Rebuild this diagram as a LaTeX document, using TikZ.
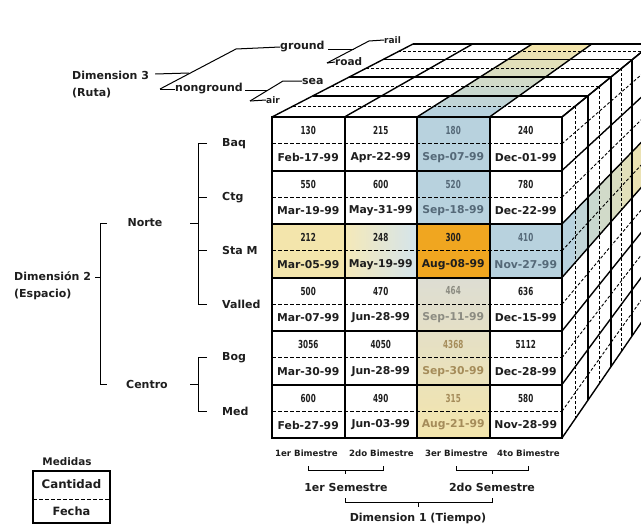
\documentclass[tikz,border=0pt]{standalone}
\usepackage{fontspec}
\setmainfont{DejaVu Sans}
\usetikzlibrary{calc}
\definecolor{bluec}{RGB}{184,210,222}
\definecolor{yellowc}{RGB}{243,229,172}
\definecolor{orangec}{RGB}{240,166,32}
\definecolor{graymix}{RGB}{221,221,211}
\definecolor{txblue}{RGB}{85,105,120}
\definecolor{txgray}{RGB}{140,140,130}
\definecolor{txbrown}{RGB}{165,140,90}
\definecolor{txt}{RGB}{30,30,30}
\begin{document}
\begin{tikzpicture}[x=1pt,y=-1pt,
  lbl/.style={inner sep=0pt, text=txt, font=\bfseries\fontsize{11}{13}\selectfont},
  smalllbl/.style={inner sep=0pt, text=txt, font=\bfseries\fontsize{9}{10}\selectfont},
  bim/.style={inner sep=0pt, text=txt, font=\bfseries\fontsize{8.6}{10}\selectfont},
  valf/.style={inner sep=0pt, font=\bfseries\fontsize{11}{12}\selectfont},
  datef/.style={inner sep=0pt, font=\bfseries\fontsize{10.8}{12}\selectfont},
  gridline/.style={line width=2pt},
  midline/.style={line width=1pt, dash pattern=on 4pt off 2pt},
  faceline/.style={line width=1.4pt},
  facemid/.style={line width=0.9pt, dash pattern=on 3pt off 2pt},
  brk/.style={line width=1pt},
]
\useasboundingbox (0,0) rectangle (641,530);
\fill[white] (0,0) rectangle (641,530);
\coordinate (vp) at (1064,-293);
\begin{scope}
\clip (0,0) rectangle (641,530);
% highlighted bands on top and right faces
\foreach \i in {0,...,7}{
  \pgfmathsetmacro\sa{1/(1+0.0541*\i/2)}
  \pgfmathsetmacro\sb{1/(1+0.0541*(\i+1)/2)}
  \pgfmathtruncatemacro\pc{100-\i*100/7}
  \filldraw[fill=bluec!\pc!yellowc, draw=bluec!\pc!yellowc, line width=0.4pt]
    ($(vp)!\sa!(417,117)$) -- ($(vp)!\sa!(489.5,117)$) -- ($(vp)!\sb!(489.5,117)$) -- ($(vp)!\sb!(417,117)$) -- cycle;
  \filldraw[fill=bluec!\pc!yellowc, draw=bluec!\pc!yellowc, line width=0.4pt]
    ($(vp)!\sa!(562,224)$) -- ($(vp)!\sa!(562,277.5)$) -- ($(vp)!\sb!(562,277.5)$) -- ($(vp)!\sb!(562,224)$) -- cycle;
}
% top and right face lines
\foreach \d in {1,2,3,4}{
  \pgfmathsetmacro\s{1/(1+0.0541*\d)}
  \draw[faceline] ($(vp)!\s!(272,117)$) -- ($(vp)!\s!(562,117)$);
  \draw[faceline] ($(vp)!\s!(562,117)$) -- ($(vp)!\s!(562,438)$);
}
\foreach \d in {0.5,1.5,2.5,3.5}{
  \pgfmathsetmacro\s{1/(1+0.0541*\d)}
  \draw[facemid] ($(vp)!\s!(272,117)$) -- ($(vp)!\s!(562,117)$);
  \draw[facemid] ($(vp)!\s!(562,117)$) -- ($(vp)!\s!(562,438)$);
}
\foreach \x in {272,344.5,417,489.5,562}
  \draw[faceline] (\x,117) -- ($(vp)!0.82203!(\x,117)$);
\foreach \y in {117,170.5,224,277.5,331,384.5,438}
  \draw[faceline] (562,\y) -- ($(vp)!0.82203!(562,\y)$);
\foreach \y in {143.75,197.25,250.75,304.25,357.75,411.25}
  \draw[facemid] (562,\y) -- ($(vp)!0.82203!(562,\y)$);
\end{scope}
% front face fills
\fill[bluec] (417,117) rectangle (489.5,224);
\fill[orangec] (417,224) rectangle (489.5,277.5);
\shade[top color=graymix, bottom color=yellowc] (417,277.5) rectangle (489.5,438);
\fill[yellowc] (272,224) rectangle (344.5,277.5);
\shade[left color=yellowc!85!white, right color=bluec!60!white] (344.5,224) rectangle (417,277.5);
\fill[bluec] (489.5,224) rectangle (562,277.5);
% front grid
\foreach \y in {143.75,197.25,250.75,304.25,357.75,411.25}
  \draw[midline] (272,\y) -- (562,\y);
\foreach \x in {344.5,417,489.5} \draw[gridline] (\x,117) -- (\x,438);
\foreach \y in {170.5,224,277.5,331,384.5} \draw[gridline] (272,\y) -- (562,\y);
\draw[gridline] (272,117) rectangle (562,438);
% cell texts
\foreach \c/\r/\v/\dt/\tc in {
 1/1/130/Feb-17-99/txt, 2/1/215/Apr-22-99/txt, 3/1/180/Sep-07-99/txblue, 4/1/240/Dec-01-99/txt,
 1/2/550/Mar-19-99/txt, 2/2/600/May-31-99/txt, 3/2/520/Sep-18-99/txblue, 4/2/780/Dec-22-99/txt,
 1/3/212/Mar-05-99/txt, 2/3/248/May-19-99/txt, 3/3/300/Aug-08-99/txt, 4/3/410/Nov-27-99/txblue,
 1/4/500/Mar-07-99/txt, 2/4/470/Jun-28-99/txt, 3/4/464/Sep-11-99/txgray, 4/4/636/Dec-15-99/txt,
 1/5/3056/Mar-30-99/txt, 2/5/4050/Jun-28-99/txt, 3/5/4368/Sep-30-99/txbrown, 4/5/5112/Dec-28-99/txt,
 1/6/600/Feb-27-99/txt, 2/6/490/Jun-03-99/txt, 3/6/315/Aug-21-99/txbrown, 4/6/580/Nov-28-99/txt}{
  \node[valf, text=\tc] (v\c\r) at ({272+72.5*(\c-0.5)},{117+53.5*(\r-1)+13.5}) {\scalebox{0.66}[1]{\v}};
  \node[datef, text=\tc] (d\c\r) at ({272+72.5*(\c-0.5)},{117+53.5*(\r-1)+40.5}) {\dt};
}
% Dimension 3
\node[lbl, anchor=west] (dim3) at (72,75) {Dimension 3};
\node[lbl, anchor=west] (ruta) at (72,93) {(Ruta)};
\node[lbl, anchor=west] (ground) at (280,47) {ground};
\node[lbl, anchor=west] (nonground) at (175,89) {nonground};
\node[smalllbl, anchor=west] (rail) at (384,40) {rail};
\node[lbl, anchor=west, font=\bfseries\fontsize{10.5}{12}\selectfont] (road) at (335,62) {road};
\node[lbl, anchor=west] (sea) at (302,81) {sea};
\node[smalllbl, anchor=west] (air) at (266,100) {air};
\coordinate (g3a) at (160,89);
\coordinate (g3b) at (236,49);
\draw[brk] (dim3.east) ++(6,-1) -- (189,73);
\draw[brk] (g3a) -- (g3b) -- (ground.west);
\draw[brk] (g3a) -- (nonground.west);
\coordinate (gga) at (327,63);
\coordinate (ggb) at (369,41);
\draw[brk] (ground.east) ++(3,2) -- (354,49);
\draw[brk] (gga) -- (ggb) -- (rail.west);
\draw[brk] (gga) -- (road.west);
\coordinate (nga) at (250,101);
\coordinate (ngb) at (283,81);
\draw[brk] (nonground.east) ++(2,1) -- (268,90);
\draw[brk] (nga) -- (ngb) -- (sea.west);
\draw[brk] (nga) -- (air.west);
% Dimension 2
\node[lbl, anchor=west] (dim2) at (14,276) {Dimensión 2};
\node[lbl, anchor=west] (esp) at (14,294) {(Espacio)};
\node[lbl] (norte) at (145,223) {Norte};
\node[lbl] (centro) at (147,384.5) {Centro};
\node[lbl, anchor=west] (baq) at (222,143.75) {Baq};
\node[lbl, anchor=west] (ctg) at (222,197.25) {Ctg};
\node[lbl, anchor=west] (stam) at (222,250.75) {Sta M};
\node[lbl, anchor=west] (valled) at (222,304.25) {Valled};
\node[lbl, anchor=west] (bog) at (222,357.75) {Bog};
\node[lbl, anchor=west] (med) at (222,411.25) {Med};
\draw[brk] (95,277) -- (100,277);
\draw[brk] (107,223) -- (100,223) -- (100,384.5) -- (107,384.5);
\draw[brk] (190,223) -- (198,223);
\draw[brk] (207,143.75) -- (198,143.75) -- (198,304.25) -- (207,304.25);
\draw[brk] (198,197.25) -- (207,197.25);
\draw[brk] (198,250.75) -- (207,250.75);
\draw[brk] (190,384.5) -- (198,384.5);
\draw[brk] (207,357.75) -- (198,357.75) -- (198,411.25) -- (207,411.25);
% Dimension 1
\node[bim] (b1) at (306.5,453) {1er Bimestre};
\node[bim] (b2) at (381.5,453) {2do Bimestre};
\node[bim] (b3) at (456.5,453) {3er Bimestre};
\node[bim] (b4) at (528.5,453) {4to Bimestre};
\node[lbl] (s1) at (346,487) {1er Semestre};
\node[lbl] (s2) at (492,487) {2do Semestre};
\node[lbl] (dim1) at (418,518) {Dimension 1 (Tiempo)};
\draw[brk] (308,466) -- (308,470) -- (383,470) -- (383,466);
\draw[brk] (345.5,470) -- (345.5,474);
\draw[brk] (456,466) -- (456,470) -- (528,470) -- (528,466);
\draw[brk] (492,470) -- (492,474);
\draw[brk] (345.5,498) -- (345.5,502) -- (492,502) -- (492,498);
\draw[brk] (418,502) -- (418,507);
% legend
\node[lbl, font=\bfseries\fontsize{10.4}{12}\selectfont] (medidas) at (67,462) {Medidas};
\draw[gridline] (33,471) rectangle (110,523);
\draw[midline] (33,499) -- (110,499);
\node[lbl, font=\bfseries\fontsize{11.8}{13}\selectfont] (cant) at (71.5,484) {Cantidad};
\node[lbl, font=\bfseries\fontsize{11.4}{13}\selectfont] (fecha) at (71.5,511) {Fecha};
\end{tikzpicture}
\end{document}
